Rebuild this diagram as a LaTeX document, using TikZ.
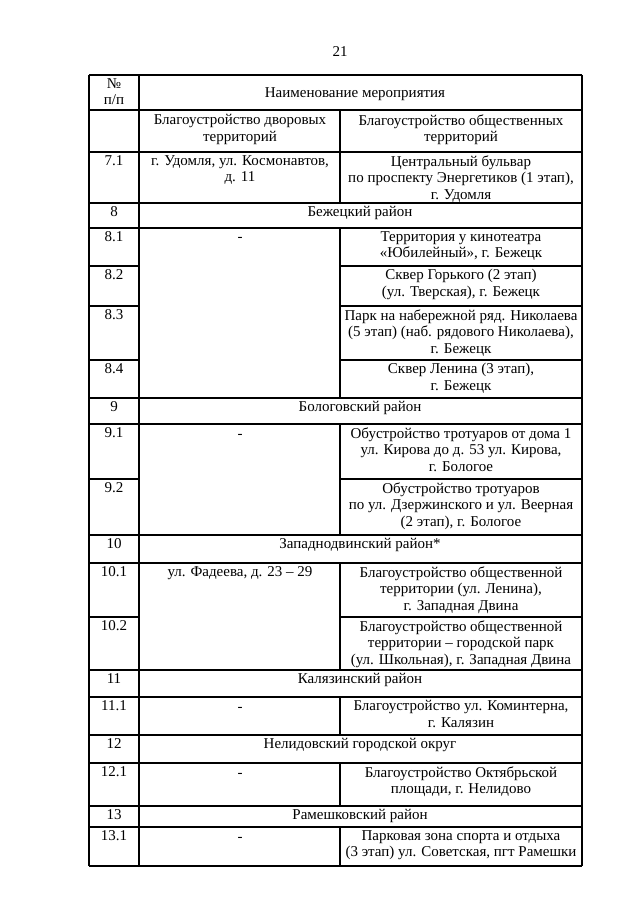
\documentclass[tikz,border=0pt]{standalone}
\usepackage{fontspec}
\setmainfont{Liberation Serif}
\begin{document}
\begin{tikzpicture}[
  x=0.75pt, y=-0.75pt,
  cell/.style = {anchor=north, align=center, inner sep=0pt,
                 font=\fontsize{11.25}{12.6}\selectfont},
  head/.style = {cell, anchor=center},
  nil/.style = {cell, anchor=base},
  rule/.style = {line width=0.8pt},
]
\useasboundingbox (0,0) rectangle (640,905);
% page number
\node[cell] (page) at (340,46) {21};
% full-width rules
\foreach \y in {75,110,152,203,228,398,424,535,563,670,697,735,763,806,827,866}
  \draw[rule] (89,\y) -- (582,\y);
% rules of col 1 and col 3 only (col 2 merged)
\foreach \y in {266,306,360,479,617} {
  \draw[rule] (89,\y) -- (139,\y);
  \draw[rule] (340,\y) -- (582,\y);
}
% vertical rules
\draw[rule] (89,75) -- (89,866);
\draw[rule] (139,75) -- (139,866);
\draw[rule] (582,75) -- (582,866);
\foreach \a/\b in {110/203,228/398,424/535,563/670,697/735,763/806,827/866}
  \draw[rule] (340,\a) -- (340,\b);

% header
\node[cell] (nhead) at (114,78) {№\\п/п};
\node[head] (name) at (355,94) {Наименование мероприятия};
\node[cell] (ahead) at (240,114) {Благоустройство дворовых\\территорий};
\node[cell] (bhead) at (461,114) {Благоустройство общественных\\территорий};
% 7.1
\node[cell] (n71) at (114,155) {7.1};
\node[cell] (a71) at (240,155) {г. Удомля, ул. Космонавтов,\\д. 11};
\node[cell] (b71) at (461,155) {Центральный бульвар\\по проспекту Энергетиков (1 этап),\\г. Удомля};
% 8
\node[cell] (n8) at (114,206) {8};
\node[cell] (r8) at (360,206) {Бежецкий район};
\node[cell] (n81) at (114,231) {8.1};
\node[nil] (a8) at (240,242) {-};
\node[cell] (b81) at (461,231) {Территория у кинотеатра\\«Юбилейный», г. Бежецк};
\node[cell] (n82) at (114,269) {8.2};
\node[cell] (b82) at (461,269) {Сквер Горького (2 этап)\\(ул. Тверская), г. Бежецк};
\node[cell] (n83) at (114,309) {8.3};
\node[cell] (b83) at (461,309) {Парк на набережной ряд. Николаева\\(5 этап) (наб. рядового Николаева),\\г. Бежецк};
\node[cell] (n84) at (114,363) {8.4};
\node[cell] (b84) at (461,363) {Сквер Ленина (3 этап),\\г. Бежецк};
% 9
\node[cell] (n9) at (114,401) {9};
\node[cell] (r9) at (360,401) {Бологовский район};
\node[cell] (n91) at (114,427) {9.1};
\node[nil] (a9) at (240,438) {-};
\node[cell] (b91) at (461,427) {Обустройство тротуаров от дома 1\\ул. Кирова до д. 53 ул. Кирова,\\г. Бологое};
\node[cell] (n92) at (114,482) {9.2};
\node[cell] (b92) at (461,482) {Обустройство тротуаров\\по ул. Дзержинского и ул. Веерная\\(2 этап), г. Бологое};
% 10
\node[cell] (n10) at (114,538) {10};
\node[cell] (r10) at (360,538) {Западнодвинский район*};
\node[cell] (n101) at (114,566) {10.1};
\node[cell] (a10) at (240,566) {ул. Фадеева, д. 23 -- 29};
\node[cell] (b101) at (461,566) {Благоустройство общественной\\территории (ул. Ленина),\\г. Западная Двина};
\node[cell] (n102) at (114,620) {10.2};
\node[cell] (b102) at (461,620) {Благоустройство общественной\\территории -- городской парк\\(ул. Школьная), г. Западная Двина};
% 11
\node[cell] (n11) at (114,673) {11};
\node[cell] (r11) at (360,673) {Калязинский район};
\node[cell] (n111) at (114,700) {11.1};
\node[nil] (a11) at (240,711) {-};
\node[cell] (b111) at (461,700) {Благоустройство ул. Коминтерна,\\г. Калязин};
% 12
\node[cell] (n12) at (114,738) {12};
\node[cell] (r12) at (360,738) {Нелидовский городской округ};
\node[cell] (n121) at (114,766) {12.1};
\node[nil] (a12) at (240,777) {-};
\node[cell] (b121) at (461,766) {Благоустройство Октябрьской\\площади, г. Нелидово};
% 13
\node[cell] (n13) at (114,809) {13};
\node[cell] (r13) at (360,809) {Рамешковский район};
\node[cell] (n131) at (114,830) {13.1};
\node[nil] (a13) at (240,841) {-};
\node[cell] (b131) at (461,830) {Парковая зона спорта и отдыха\\(3 этап) ул. Советская, пгт Рамешки};
\end{tikzpicture}
\end{document}
